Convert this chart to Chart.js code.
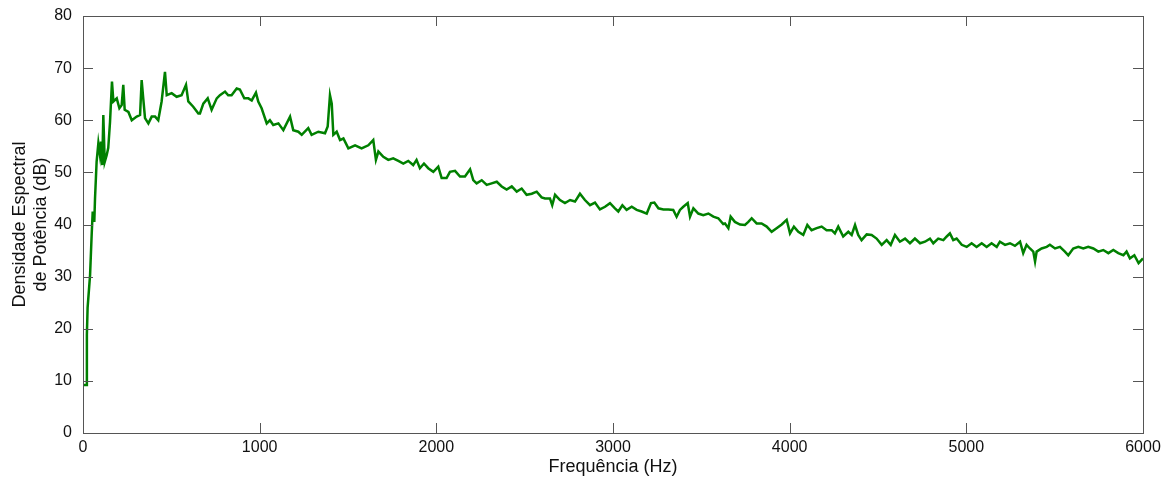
<!DOCTYPE html>
<html>
<head>
<meta charset="utf-8">
<script src="https://cdn.jsdelivr.net/npm/chart.js@4/dist/chart.umd.min.js"></script>
<style>
  body { margin: 0; background: #fff; }
</style>
</head>
<body>
<canvas id="psd" width="1176" height="486"></canvas>
<script>
// frequency (Hz) and power spectral density (dB)
const freqs = [
  0, 19, 22, 26, 40, 49, 55, 64, 68, 77, 87, 96, 102, 109, 115, 123, 134, 143, 153, 164,
  172, 191, 206, 219, 228, 236, 257, 276, 304, 323, 332, 341, 351, 370, 389, 408, 426, 445, 464, 474,
  502, 530, 558, 583, 596, 624, 653, 662, 681, 706, 728, 757, 775, 804, 822, 841, 870, 888, 913, 936,
  955, 979, 992, 1011, 1040, 1058, 1077, 1106, 1134, 1172, 1190, 1219, 1238, 1275, 1294, 1332, 1370, 1385, 1398, 1408,
  1417, 1436, 1455, 1474, 1502, 1540, 1577, 1615, 1643, 1658, 1672, 1700, 1728, 1756, 1785, 1813, 1841, 1869, 1888, 1907,
  1930, 1954, 1983, 2011, 2030, 2058, 2077, 2106, 2134, 2162, 2191, 2209, 2228, 2257, 2285, 2313, 2342, 2370, 2398, 2427,
  2455, 2483, 2511, 2540, 2568, 2596, 2615, 2643, 2656, 2672, 2700, 2728, 2757, 2785, 2813, 2841, 2870, 2898, 2926, 2955,
  2983, 3011, 3030, 3053, 3077, 3106, 3134, 3162, 3191, 3215, 3234, 3257, 3285, 3313, 3341, 3360, 3379, 3398, 3423, 3436,
  3455, 3483, 3511, 3540, 3568, 3596, 3624, 3634, 3653, 3666, 3690, 3719, 3747, 3766, 3785, 3813, 3841, 3870, 3898, 3926,
  3955, 3983, 4002, 4024, 4049, 4077, 4100, 4124, 4153, 4181, 4209, 4238, 4256, 4275, 4303, 4332, 4351, 4370, 4388, 4407,
  4436, 4464, 4492, 4521, 4549, 4572, 4596, 4624, 4653, 4681, 4709, 4738, 4766, 4794, 4813, 4841, 4870, 4889, 4907, 4926,
  4945, 4974, 5002, 5030, 5058, 5087, 5115, 5143, 5172, 5190, 5219, 5247, 5275, 5304, 5322, 5341, 5360, 5379, 5389, 5398,
  5426, 5455, 5473, 5502, 5530, 5558, 5577, 5605, 5634, 5662, 5690, 5719, 5747, 5775, 5804, 5832, 5860, 5889, 5907, 5926,
  5951, 5975, 6000
];
const psd = [
  9.2, 9.2, 18.8, 24, 30.3, 38, 42.5, 40.5, 45, 52, 55.6, 53.3, 55.9, 51.4, 61, 52, 53.3, 54.7, 59.7, 67.4,
  63.6, 64.2, 62.3, 62.9, 66.8, 62, 61.6, 60, 60.7, 61, 67.7, 64.2, 60.4, 59.4, 60.7, 60.7, 60, 63.6, 69.3, 64.8,
  65.2, 64.5, 64.8, 66.8, 63.6, 62.6, 61.3, 61.3, 63.2, 64.2, 62, 64.2, 64.8, 65.5, 64.8, 64.8, 66.1, 65.9, 64.2, 64.2,
  63.8, 65.3, 63.6, 62.3, 59.4, 60, 59.1, 59.4, 58.1, 60.7, 58.1, 57.8, 57.2, 58.5, 57.2, 57.8, 57.5, 58.8, 64.8, 63.2,
  57.2, 57.8, 56.2, 56.5, 54.6, 55.2, 54.6, 55.2, 56.2, 52.4, 54, 53, 52.4, 52.7, 52.2, 51.7, 52.2, 51.4, 52.4, 50.8,
  51.7, 50.8, 50.1, 51.1, 48.9, 48.9, 50.1, 50.3, 49.2, 49.2, 50.6, 48.5, 47.9, 48.5, 47.6, 47.9, 48.2, 47.3, 46.7, 47.3,
  46.3, 46.9, 45.7, 45.9, 46.3, 45.2, 45, 45, 43.7, 45.7, 44.7, 44.1, 44.7, 44.4, 45.9, 44.7, 43.7, 44.2, 42.9, 43.4,
  44.1, 43.1, 42.5, 43.7, 42.8, 43.4, 42.8, 42.5, 42.1, 44.1, 44.2, 43.1, 42.9, 42.9, 42.8, 41.5, 42.8, 43.4, 44.1, 41.5,
  43.1, 42.1, 41.8, 42.1, 41.5, 41.2, 40.1, 40.2, 39.3, 41.5, 40.5, 40, 39.9, 40.5, 41.2, 40.2, 40.2, 39.6, 38.6, 39.3,
  40, 40.9, 38.3, 39.6, 38.6, 38, 39.9, 38.9, 39.3, 39.6, 38.9, 38.9, 38.3, 39.6, 37.7, 38.6, 38, 39.9, 38, 37,
  38.1, 38, 37.3, 36.1, 37, 36.1, 38, 36.7, 37.3, 36.4, 37.3, 36.4, 36.7, 37.3, 36.4, 37.3, 37, 37.7, 38.3, 37,
  37.3, 36.1, 35.7, 36.4, 35.7, 36.4, 35.7, 36.4, 35.7, 36.7, 36.1, 36.4, 35.9, 36.7, 34.5, 36.1, 35.4, 34.8, 32.9, 34.8,
  35.4, 35.7, 36.1, 35.4, 35.7, 34.8, 34.1, 35.4, 35.7, 35.4, 35.7, 35.4, 34.8, 35.1, 34.5, 35.1, 34.5, 34.1, 34.8, 33.5,
  34.1, 32.6, 33.5
];
const xTicks = [0, 1000, 2000, 3000, 4000, 5000, 6000];
const yTicks = [0, 10, 20, 30, 40, 50, 60, 70, 80];

const FONT = "Arial, 'Liberation Sans', sans-serif";
const TEXT = "#111";
const FRAME = "#555";

// matlab style box with ticks pointing inward on all four sides
const boxTicks = {
  id: "boxTicks",
  afterDatasetsDraw(chart) {
    const { ctx, chartArea: a, scales } = chart;
    const len = 10;
    ctx.save();
    ctx.strokeStyle = FRAME;
    ctx.lineWidth = 1;
    ctx.beginPath();
    xTicks.forEach((t) => {
      const x = Math.round(scales.x.getPixelForValue(t)) + 0.5;
      ctx.moveTo(x, a.bottom); ctx.lineTo(x, a.bottom - len);
      ctx.moveTo(x, a.top); ctx.lineTo(x, a.top + len);
    });
    yTicks.forEach((t) => {
      const y = Math.round(scales.y.getPixelForValue(t)) + 0.5;
      ctx.moveTo(a.left, y); ctx.lineTo(a.left + len, y);
      ctx.moveTo(a.right, y); ctx.lineTo(a.right - len, y);
    });
    ctx.stroke();
    ctx.strokeRect(Math.round(a.left) + 0.5, Math.round(a.top) + 0.5,
      Math.round(a.right - a.left), Math.round(a.bottom - a.top));
    ctx.restore();
  },
};

new Chart(document.getElementById("psd"), {
  type: "line",
  data: {
    datasets: [{
      data: freqs.map((f, i) => ({ x: f, y: psd[i] })),
      borderColor: "#008000",
      borderWidth: 2.5,
      pointRadius: 0,
      tension: 0,
      fill: false,
    }],
  },
  options: {
    responsive: false,
    animation: false,
    events: [],
    layout: { padding: { top: 16, right: 33, left: 0, bottom: 0 } },
    plugins: { legend: { display: false }, tooltip: { enabled: false } },
    scales: {
      x: {
        type: "linear",
        min: 0,
        max: 6000,
        afterBuildTicks: (s) => { s.ticks = xTicks.map((v) => ({ value: v })); },
        afterFit: (s) => { s.height = 53; },
        grid: { display: false },
        border: { display: false },
        ticks: {
          color: TEXT,
          font: { family: FONT, size: 16 },
          padding: -3,
          maxRotation: 0,
          callback: (v) => String(v),
        },
        title: {
          display: true,
          text: "Frequência (Hz)",
          color: TEXT,
          font: { family: FONT, size: 18 },
          padding: { top: 0, bottom: 8 },
        },
      },
      y: {
        min: 0,
        max: 80,
        afterBuildTicks: (s) => { s.ticks = yTicks.map((v) => ({ value: v })); },
        afterFit: (s) => { s.width = 83; },
        grid: { display: false },
        border: { display: false },
        ticks: { color: TEXT, font: { family: FONT, size: 16 }, padding: 3 },
        title: {
          display: true,
          text: ["Densidade Espectral", "de Potência (dB)"],
          color: TEXT,
          font: { family: FONT, size: 18 },
          padding: { top: 9, bottom: 0 },
        },
      },
    },
  },
  plugins: [boxTicks],
});
</script>
</body>
</html>
